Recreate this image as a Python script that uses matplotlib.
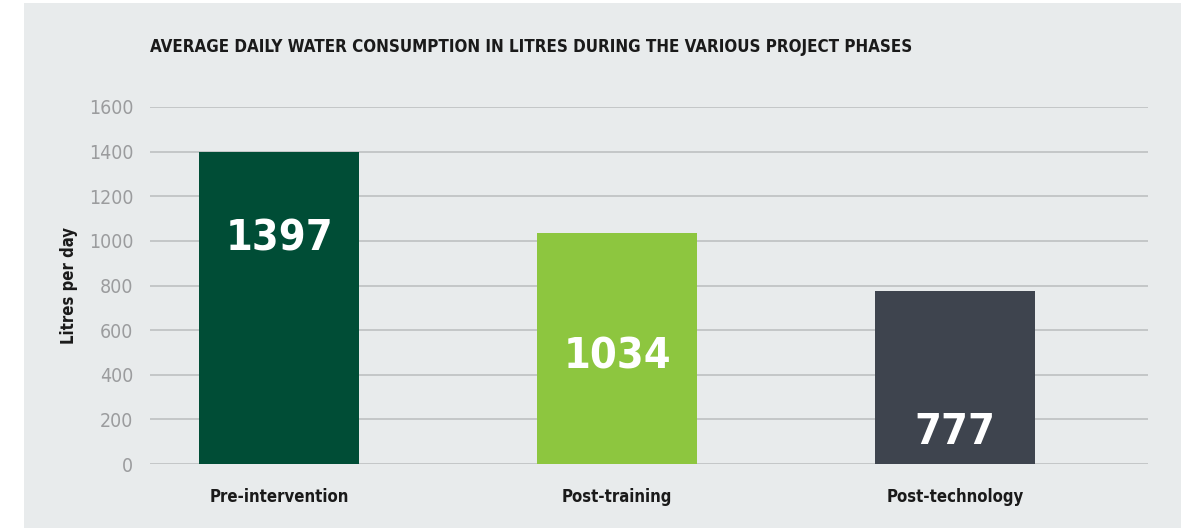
import matplotlib.pyplot as plt
from matplotlib.patches import Rectangle
from matplotlib import font_manager

# Data
phases = ['Pre-intervention', 'Post-training', 'Post-technology']
litres = [1397, 1034, 777]
colors = ['#004d36', '#8dc63f', '#3e444e']
label_y = [1010, 480, 145]   # where the value labels sit inside the bars
yticks = [0, 200, 400, 600, 800, 1000, 1200, 1400, 1600]

names = {f.name for f in font_manager.fontManager.ttflist}
font = 'Liberation Sans Narrow' if 'Liberation Sans Narrow' in names else 'DejaVu Sans'
plt.rcParams['font.family'] = [font, 'DejaVu Sans']
plt.rcParams['font.stretch'] = 'condensed'

W, H = 1192, 528
fig = plt.figure(figsize=(W / 100, H / 100), dpi=100)
fig.patch.set_facecolor('white')

# gray panel behind everything
fig.patches.append(Rectangle((24 / W, 0), (1181 - 24) / W, (528 - 3) / H,
                             transform=fig.transFigure, facecolor='#e8ebec',
                             edgecolor='none', zorder=-5))

ax = fig.add_axes([150 / W, 1 - 464 / H, (1148 - 150) / W, (464 - 107) / H])
ax.set_facecolor('none')

x = range(len(phases))
ax.bar(x, litres, width=0.473, color=colors, zorder=3)
for xi, v, ly in zip(x, litres, label_y):
    ax.text(xi, ly, str(v), ha='center', va='center', color='white',
            fontsize=31, fontweight='bold', zorder=4)

ax.set_xlim(-0.382, 2.571)
ax.set_ylim(0, 1600)
ax.set_yticks(yticks)
ax.set_yticklabels([str(t) for t in yticks], color='#9b9c9e', fontsize=14)
ax.set_xticks(list(x))
ax.set_xticklabels(phases, fontsize=12, fontweight='bold', color='#1a1a1a')
ax.tick_params(axis='both', length=0)
ax.tick_params(axis='y', pad=12)
ax.tick_params(axis='x', pad=17)
ax.grid(axis='y', color='#c4c6c8', linewidth=1.4, zorder=1)
for s in ax.spines.values():
    s.set_visible(False)

ax.set_ylabel('Litres per day', fontsize=12, fontweight='bold', color='#1a1a1a', labelpad=8)

fig.text(150 / W, 1 - 47 / H, 'AVERAGE DAILY WATER CONSUMPTION IN LITRES DURING THE VARIOUS PROJECT PHASES',
         fontsize=12.2, fontweight='bold', color='#1a1a1a', va='center', ha='left')

fig.savefig('out.png', dpi=100, facecolor=fig.get_facecolor())
